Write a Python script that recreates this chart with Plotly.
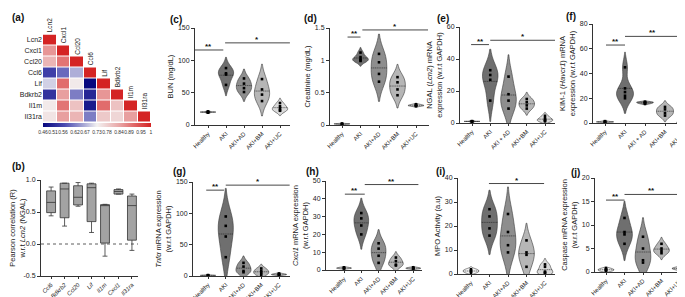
import plotly.graph_objects as go

W, H = 685, 297
FONT = "Liberation Sans, Arial, sans-serif"


def fx(p):
    return p / W


def fy(p):
    return 1 - p / H


# ---------------- data ----------------
genes = ["Lcn2", "Cxcl1", "Ccl20", "Ccl6", "Lif", "Bdkrb2", "Il1m", "Il31ra"]
corr_rows = [
    [1.00],
    [0.86, 1.00],
    [0.82, 0.90, 1.00],
    [0.55, 0.60, 0.67, 1.00],
    [0.70, 0.91, 0.74, 0.46, 1.00],
    [0.53, 0.85, 0.62, 0.51, 0.86, 1.00],
    [0.74, 0.90, 0.80, 0.49, 0.91, 0.80, 1.00],
    [0.75, 0.85, 0.82, 0.62, 0.79, 0.77, 0.85, 1.00],
]
cbar_ticks = [0.46, 0.51, 0.56, 0.62, 0.67, 0.73, 0.78, 0.84, 0.89, 0.95, 1.0]
cbar_text = ["0.46", "0.51", "0.56", "0.62", "0.67", "0.73", "0.78", "0.84", "0.89", "0.95", "1"]

box_genes = ["Ccl6", "Bdkrb2", "Ccl20", "Lif", "Il1m", "Cxcl1", "Il31ra"]
box_min = [0.44, 0.28, 0.59, 0.18, -0.19, 0.78, -0.10]
box_q1 = [0.49, 0.41, 0.61, 0.35, 0.015, 0.78, 0.06]
box_med = [0.65, 0.86, 0.73, 0.88, 0.61, 0.82, 0.60]
box_q3 = [0.83, 0.95, 0.91, 0.94, 0.615, 0.85, 0.75]
box_max = [0.89, 0.95, 0.96, 0.95, 0.62, 0.86, 0.78]
box_yticks = [-0.5, 0.0, 0.5, 1.0]

groups = ["Healthy", "AKI", "AKI+AD", "AKI+BM", "AKI+UC"]
groups_sp = ["Healthy", "AKI", "AKI + AD", "AKI+BM", "AKI+UC"]
group_colors = ["#f4f4f4", "#6f6f6f", "#8e8e8e", "#b6b6b6", "#dadada"]

bun = [[19, 20, 21, 20, 20], [88, 80, 78, 62], [72, 64, 57, 51], [71, 55, 47, 37], [34, 29, 26, 23, 22]]
creatinine = [[0.01, 0.02, 0.02, 0.015], [1.12, 1.05, 1.0, 0.99, 1.02], [1.1, 0.97, 0.79, 0.67],
              [0.74, 0.66, 0.55, 0.46], [0.32, 0.31, 0.30, 0.30, 0.29]]
ngal = [[1, 1, 1.2, 0.8, 1], [33, 30, 27, 14], [29, 18, 14, 9], [15, 13, 11, 9], [4.5, 3, 2, 1.5, 1]]
kim1 = [[1, 0.5, 1, 1.5, 0.8], [45, 28, 25, 22, 20], [17, 16, 16.5, 15.5, 17], [13, 11, 8, 6], [2.5, 0.5, 0.3, 0.5]]
tnfa = [[1, 1, 1.5, 0.5], [95, 80, 63, 30], [21, 15, 8, 6], [12, 8, 5, 2], [3, 2, 4, 1.5, 2.5]]
cxcl1 = [[1, 1.5, 0.8, 1.2], [32, 29, 25, 20], [15, 12, 8, 4], [7, 5, 3, 2.5], [1.2, 0.8, 1.5, 0.6, 1]]
mpo = [[2, 1, 0.5, 1.5], [27, 24, 19, 16], [25, 17.5, 12, 9], [14, 9, 8, 3], [4, 3, 1, 0.5, 0.5]]
caspase = [[0.8, 0.5, 0.3, 0.6, 0.2], [11.5, 8.5, 8, 6], [7.5, 5, 2.5, 2], [6, 5, 4.5, 4], [0.8, 0.5, 0.7, 1]]

# significance bars: (x0, x1, y, label)
sig_c = [(-0.8, 0.85, 116, "**"), (0.95, 4.55, 127, "*")]
sig_d = [(0.3, 1.0, 1.36, "**"), (1.1, 4.65, 1.47, "*")]
sig_e = [(-0.05, 0.93, 49, "**"), (1.0, 4.6, 51.7, "*")]
sig_f = [(0.05, 1.0, 63, "**"), (1.0, 3.75, 70, "**")]
sig_g = [(-0.1, 0.9, 137, "**"), (1.0, 4.6, 145, "*")]
sig_h = [(0.05, 1.2, 42.6, "**"), (1.2, 4.3, 48, "**")]
sig_i = [(0.97, 3.95, 37.7, "*")]
sig_j = [(0.0, 1.0, 15.3, "**"), (1.0, 3.9, 16.5, "**")]

# ---------------- figure ----------------
fig = go.Figure()
layout = dict(
    width=W, height=H, margin=dict(l=0, r=0, t=0, b=0, autoexpand=False),
    paper_bgcolor="white", plot_bgcolor="white",
    font=dict(family=FONT, size=7, color="#222"),
    showlegend=False, violinmode="overlay", boxmode="overlay",
)
annotations = []

axis_common = dict(showgrid=False, zeroline=False, showline=True, linecolor="#333", linewidth=1,
                   ticks="outside", ticklen=3, tickwidth=1, tickcolor="#333",
                   tickfont=dict(size=7, family=FONT, color="#222"))
xtickfont = dict(size=6, family=FONT, color="#222")

# ---- (a) heatmap ----
n = len(genes)
z = [[(corr_rows[i][j] if j <= i else None) for j in range(n)] for i in range(n)]
cscale = [[0.0, "#08087e"], [0.2, "#4a4ab0"], [0.38, "#a9a9d6"], [0.5, "#f3f1f1"],
          [0.7, "#e9a9a9"], [0.85, "#e06464"], [1.0, "#d42424"]]
fig.add_trace(go.Heatmap(
    z=z, x=list(range(n)), y=list(range(n)), xaxis="x", yaxis="y",
    colorscale=cscale, zmin=0.46, zmax=1.0, xgap=1, ygap=1, hoverongaps=False,
    colorbar=dict(orientation="h", x=fx(35), xanchor="left", y=fy(115.5), yanchor="top",
                  len=(143 - 35) / W, lenmode="fraction", thickness=4, thicknessmode="pixels",
                  xpad=0, ypad=0, outlinewidth=0, ticks="", tickangle=0,
                  tickvals=cbar_ticks, ticktext=cbar_text,
                  tickfont=dict(size=5, family=FONT, color="#333")),
))
layout["xaxis"] = dict(domain=[fx(35), fx(143)], range=[-0.5, n - 0.5], visible=False, anchor="y")
layout["yaxis"] = dict(domain=[fy(114.5), fy(26.5)], range=[n - 0.5, -0.5], anchor="x",
                       showgrid=False, zeroline=False, showline=False, ticks="",
                       tickvals=list(range(n)), ticktext=genes, tickfont=dict(size=7, family=FONT, color="#222"))
for j, g in enumerate(genes):
    annotations.append(dict(x=j, y=j - 0.5, xref="x", yref="y", text=g, textangle=-90,
                            showarrow=False, xanchor="center", yanchor="bottom",
                            font=dict(size=6.5, family=FONT, color="#222")))

# ---- (b) box plot ----
fig.add_trace(go.Box(
    x=list(range(len(box_genes))), q1=box_q1, median=box_med, q3=box_q3,
    lowerfence=box_min, upperfence=box_max, xaxis="x2", yaxis="y2",
    fillcolor="#a3a3a3", line=dict(color="#333", width=0.8), width=0.66, whiskerwidth=0.55,
))
fig.add_trace(go.Scatter(x=[-0.75, 6.5], y=[0, 0], mode="lines", xaxis="x2", yaxis="y2",
                         line=dict(color="#333", width=0.8, dash="dot"), hoverinfo="skip"))
layout["xaxis2"] = dict(axis_common, domain=[fx(33), fx(130)], range=[-0.75, 6.45], anchor="y2",
                        tickvals=list(range(len(box_genes))), tickfont=xtickfont, ticklen=2,
                        ticktext=[f"<i>{g}</i>" for g in box_genes], tickangle=-45)
layout["yaxis2"] = dict(axis_common, domain=[fy(268), fy(172)], range=[-0.5, 1.0], anchor="x2",
                        tickvals=box_yticks, ticktext=["-0.5", "0.0", "0.5", "1.0"],
                        title=dict(text="Pearson correlation (R)<br>w.r.t <i>Lcn2</i> (NGAL)",
                                   font=dict(size=7.5, family=FONT, color="#222"), standoff=4))

# ---- violin panels ----
panels = [
    (3, bun, groups, 187, 282, 20, 117, 200, 18, [0, 150], [0, 50, 100, 150], "BUN (mg/dL)", sig_c),
    (4, creatinine, groups, 322, 421, 20, 117, 334, 18.5, [0, 1.5], [0, 0.5, 1.0, 1.5],
     "Creatinine (mg/dL)", sig_d),
    (5, ngal, groups_sp, 452, 547, 19, 115, 464, 18.25, [0, 60], [0, 20, 40, 60],
     "NGAL (<i>Lcn2</i>) mRNA<br>expression (w.r.t GAPDH)", sig_e),
    (6, kim1, groups_sp, 585, 684, 16, 115, 597, 20, [0, 80], [0, 20, 40, 60, 80],
     "KIM-1 (<i>Havcr1</i>) mRNA<br>expression (w.r.t GAPDH)", sig_f),
    (7, tnfa, groups, 185, 282, 174, 268, 200, 17.75, [0, 150], [0, 50, 100, 150],
     "<i>Tnfα</i> mRNA expression<br>(w.r.t GAPDH)", sig_g),
    (8, cxcl1, groups, 318, 414, 173, 262, 336, 17.3, [0, 50], [0, 10, 20, 30, 40, 50],
     "<i>Cxcl1</i> mRNA expression<br>(w.r.t GAPDH)", sig_h),
    (9, mpo, groups, 450, 547, 170, 266, 463, 18.5, [0, 40], [0, 10, 20, 30, 40],
     "MPO Activity (a.u)", sig_i),
    (10, caspase, groups, 587, 684, 170, 264, 598, 18.5, [0, 20], [0, 5, 10, 15, 20],
     "Caspase mRNA expression<br>(w.r.t GAPDH)", sig_j),
]

for (k, data, labels, xl, xr, yt, yb, p0, step, yr, yticks, ytitle, sig) in panels:
    xa, ya = f"x{k}", f"y{k}"
    for i, vals in enumerate(data):
        fig.add_trace(go.Violin(
            x=[i] * len(vals), y=vals, xaxis=xa, yaxis=ya,
            fillcolor=group_colors[i], line=dict(color="#3a3a3a", width=0.6),
            points="all", pointpos=0, jitter=0,
            marker=dict(color="black", size=2.6, symbol="square"),
            width=0.85, scalemode="width", meanline=dict(visible=True, color="#222", width=0.6),
            hoverinfo="y",
        ))
    for (x0, x1, yv, lab) in sig:
        fig.add_trace(go.Scatter(x=[x0, x1], y=[yv, yv], mode="lines", xaxis=xa, yaxis=ya,
                                 line=dict(color="#333", width=0.9), hoverinfo="skip"))
        annotations.append(dict(x=(x0 + x1) / 2, y=yv, xref=xa, yref=ya, text=f"<b>{lab}</b>",
                                showarrow=False, yanchor="bottom", yshift=-3,
                                font=dict(size=8, family=FONT, color="#111")))
    xmin = (xl - p0) / step
    xmax = (xr - p0) / step
    layout[f"xaxis{k}"] = dict(axis_common, domain=[fx(xl), fx(xr)], range=[xmin, xmax], anchor=ya,
                               tickvals=list(range(5)), ticktext=labels, tickangle=-45,
                               tickfont=xtickfont, ticklen=2)
    layout[f"yaxis{k}"] = dict(axis_common, domain=[fy(yb), fy(yt)], range=yr, anchor=xa,
                               tickvals=yticks,
                               title=dict(text=ytitle, font=dict(size=7.5, family=FONT, color="#222"),
                                          standoff=3))

# ---- panel labels ----
panel_labels = [("(a)", 2, 2), ("(b)", 2, 151), ("(c)", 160, 4), ("(d)", 294, 3), ("(e)", 427, 3),
                ("(f)", 556, 1), ("(g)", 163, 156), ("(h)", 296, 156), ("(i)", 426, 156), ("(j)", 561, 157)]
for t, px, py in panel_labels:
    annotations.append(dict(x=fx(px), y=fy(py), xref="paper", yref="paper", text=f"<b>{t}</b>",
                            showarrow=False, xanchor="left", yanchor="top",
                            font=dict(size=10, family=FONT, color="#111")))

layout["annotations"] = annotations
fig.update_layout(**layout)
fig.write_html("out.html")
